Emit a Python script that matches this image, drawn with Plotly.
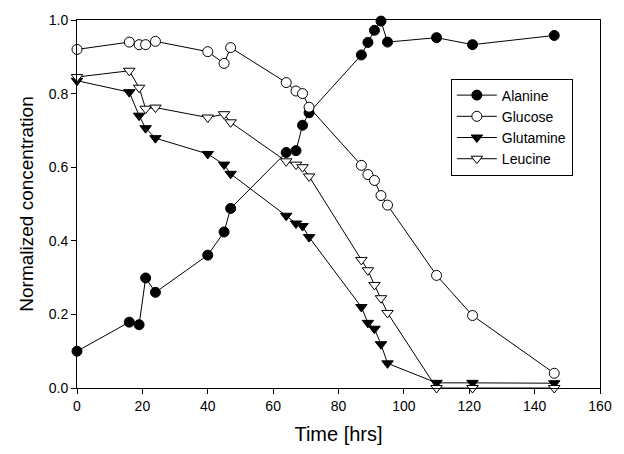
import plotly.graph_objects as go

time_hrs = [0, 16, 19, 21, 24, 40, 45, 47, 64, 67, 69, 71, 87, 89, 91, 93, 95, 110, 121, 146]

alanine = [0.10, 0.179, 0.172, 0.299, 0.26, 0.361, 0.424, 0.488, 0.640, 0.645, 0.714, 0.748,
           0.905, 0.939, 0.972, 0.997, 0.940, 0.952, 0.933, 0.958]
glucose = [0.92, 0.940, 0.933, 0.933, 0.942, 0.914, 0.882, 0.925, 0.830, 0.807, 0.800, 0.763,
           0.605, 0.580, 0.564, 0.523, 0.497, 0.306, 0.197, 0.040]
glutamine = [0.835, 0.804, 0.740, 0.706, 0.679, 0.636, 0.607, 0.582, 0.468, 0.447, 0.440, 0.410,
             0.220, 0.177, 0.161, 0.119, 0.067, 0.014, 0.014, 0.013]
leucine = [0.845, 0.862, 0.816, 0.759, 0.762, 0.735, 0.744, 0.722, 0.616, 0.607, 0.600, 0.575,
           0.348, 0.320, 0.280, 0.244, 0.204, 0.0, 0.0, 0.0]

series = [
    ("Alanine", alanine, "circle", "black"),
    ("Glucose", glucose, "circle", "white"),
    ("Glutamine", glutamine, "triangle-down", "black"),
    ("Leucine", leucine, "triangle-down", "white"),
]

fig = go.Figure()
for name, vals, sym, fill in series:
    fig.add_trace(go.Scatter(
        x=time_hrs, y=vals, name=name, mode="lines+markers",
        line=dict(color="black", width=1),
        marker=dict(symbol=sym, size=10, color=fill, line=dict(color="black", width=1)),
        cliponaxis=False,
    ))

axis_common = dict(
    showline=True, linecolor="black", linewidth=1, mirror=True,
    ticks="outside", ticklen=5, tickcolor="black", showgrid=False, zeroline=False,
    tickfont=dict(family="Liberation Sans, Arial", size=14, color="black"),
)

fig.update_layout(
    width=624, height=454,
    margin=dict(l=77, r=14, t=18, b=65),
    paper_bgcolor="white", plot_bgcolor="white",
    font=dict(family="Liberation Sans, Arial", color="black"),
    xaxis=dict(range=[0, 160], tickmode="array", tickvals=list(range(0, 161, 20)),
               title=dict(text="Time [hrs]", font=dict(size=20), standoff=14), **axis_common),
    yaxis=dict(range=[0, 1.0], tickmode="array", tickvals=[0, 0.2, 0.4, 0.6, 0.8, 1.0],
               tickformat=".1f",
               title=dict(text="Normalized concentration", font=dict(size=19), standoff=10), **axis_common),
    legend=dict(x=(458 - 77) / 533, y=(389 - 77) / 371, xanchor="left", yanchor="top",
                bordercolor="black", borderwidth=1, bgcolor="white",
                font=dict(size=14), tracegroupgap=0, itemwidth=40),
    showlegend=True,
)

fig.write_html("out.html", config={"displayModeBar": False},
               post_script="document.body.style.margin='0';document.body.style.overflow='hidden';")
